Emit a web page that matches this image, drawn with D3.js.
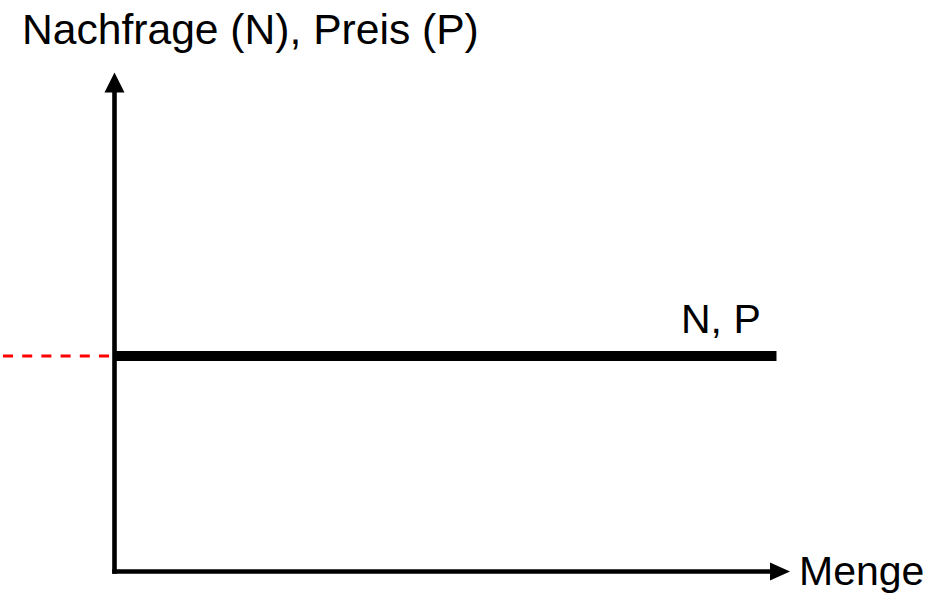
<!DOCTYPE html>
<html><head><meta charset="utf-8">
<script src="https://cdn.jsdelivr.net/npm/d3@7"></script>
<style>html,body{margin:0;padding:0;background:#fff;}svg{display:block;font-family:"Liberation Sans",Arial,sans-serif;}</style>
</head><body>
<script>
// Data
const quantity = [0, 98];          // Menge range of the N,P line
const priceLevel = [43.2, 43.2];   // constant Nachfrage/Preis level
const axisLabels = ["Nachfrage (N), Preis (P)", "Menge"];
const lineLabel = ["N, P"];

const W = 946, H = 595;
const x = d3.scaleLinear().domain([0, 100]).range([114.5, 790]);
const y = d3.scaleLinear().domain([0, 100]).range([571.5, 72.5]);

const svg = d3.select("body").append("svg").attr("width", W).attr("height", H);

// red dashed reference line to the left of the y axis
svg.append("line")
  .attr("x1", 3).attr("x2", x(0) - 3)
  .attr("y1", y(priceLevel[0])).attr("y2", y(priceLevel[0]))
  .attr("stroke", "#ff0000").attr("stroke-width", 3)
  .attr("stroke-dasharray", "10,9.2");

// axes
const axisW = 4.6;
svg.append("line").attr("x1", x(0)).attr("x2", x(0))
  .attr("y1", y(0) + axisW/2).attr("y2", y(100) + 19)
  .attr("stroke", "#000").attr("stroke-width", axisW);
svg.append("line").attr("x1", x(0) - axisW/2).attr("x2", x(100) - 19)
  .attr("y1", y(0)).attr("y2", y(0))
  .attr("stroke", "#000").attr("stroke-width", axisW);
// arrow heads
svg.append("path")
  .attr("d", `M${x(0)},${y(100)} L${x(0)+10},${y(100)+20} L${x(0)-10},${y(100)+20} Z`)
  .attr("fill", "#000");
svg.append("path")
  .attr("d", `M${x(100)},${y(0)} L${x(100)-20},${y(0)-9} L${x(100)-20},${y(0)+9} Z`)
  .attr("fill", "#000");

// N,P line
const line = d3.line().x(d => x(d[0])).y(d => y(d[1]));
svg.append("path")
  .datum(quantity.map((q, i) => [q, priceLevel[i]]))
  .attr("d", line)
  .attr("fill", "none").attr("stroke", "#000").attr("stroke-width", 10);

// labels
svg.append("text").attr("x", 22).attr("y", 44)
  .attr("font-size", 42.6).attr("fill", "#000").text(axisLabels[0]);
svg.append("text").attr("x", 799).attr("y", 585)
  .attr("font-size", 41).attr("fill", "#000").text(axisLabels[1]);
svg.append("text").attr("x", 681).attr("y", 333)
  .attr("font-size", 41).attr("fill", "#000").text(lineLabel[0]);
</script>
</body></html>
